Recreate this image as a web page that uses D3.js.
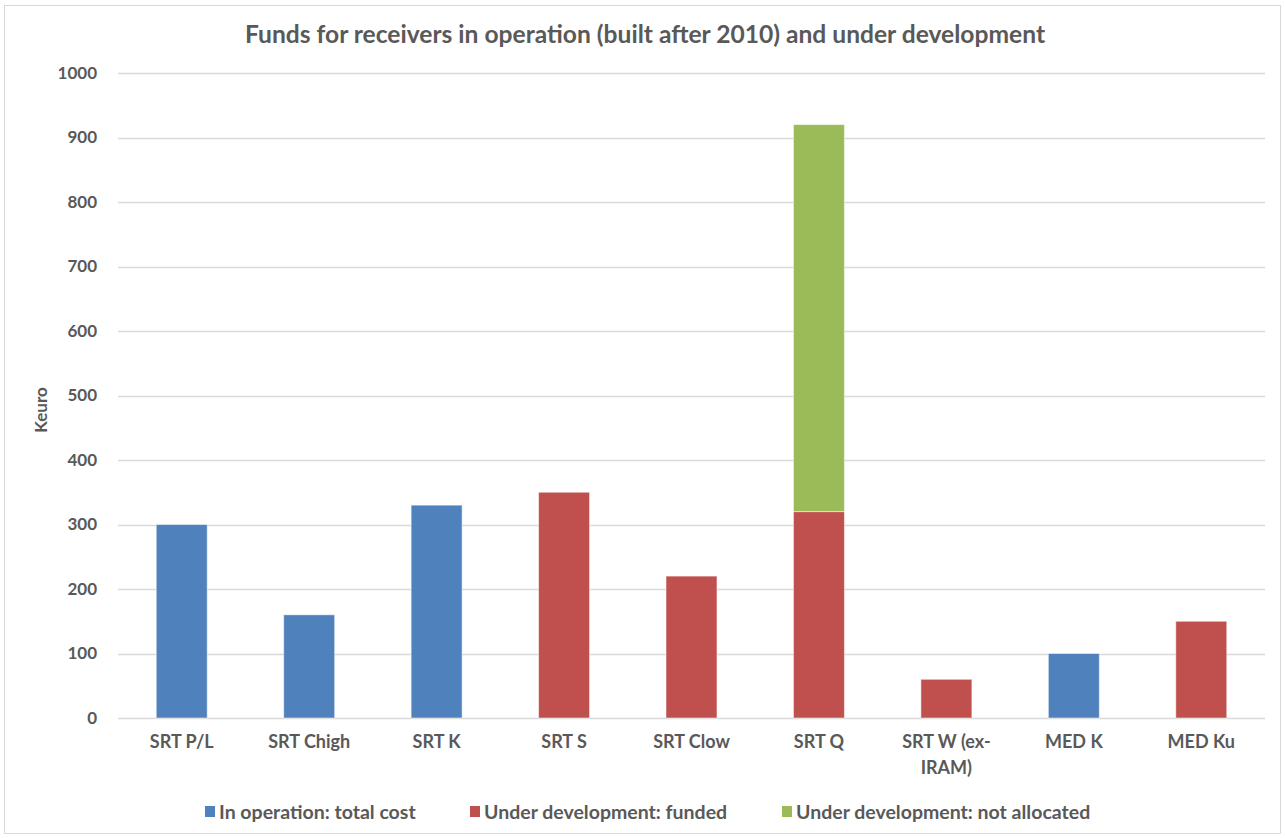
<!DOCTYPE html>
<html>
<head>
  <title>Funds for receivers</title>
  <script src="https://d3js.org/d3.v7.min.js"></script>
  <style type="text/css">
    body { margin: 0; background: #fff; }
    svg, svg text { font-family: Lato, "Open Sans", sans-serif; font-weight: bold; }
    .tick text { fill: #595959; }
  </style>
</head>
<body>
<div id="chart"></div>
<script type="text/javascript">
  // data
  var categories = ["SRT P/L", "SRT Chigh", "SRT K", "SRT S", "SRT Clow", "SRT Q", "SRT W (ex-IRAM)", "MED K", "MED Ku"];
  var inOperation = [300, 160, 330, 0, 0, 0, 0, 100, 0];
  var devFunded = [0, 0, 0, 350, 220, 320, 60, 0, 150];
  var devNotAllocated = [0, 0, 0, 0, 0, 600, 0, 0, 0];
  var seriesNames = ["In operation: total cost", "Under development: funded", "Under development: not allocated"];
  var seriesColors = ["#4F81BD", "#C0504D", "#9BBB59"];
  var yTicks = [0, 100, 200, 300, 400, 500, 600, 700, 800, 900, 1000];

  var width = 1285, height = 838;

  var svg = d3.select("#chart").append("svg")
    .attr("width", width)
    .attr("height", height);

  // outer frame
  svg.append("rect")
    .attr("x", 4.5).attr("y", 5.5)
    .attr("width", 1276).attr("height", 828)
    .attr("fill", "#fff")
    .attr("stroke", "#d9d9d9");

  var x = d3.scaleBand()
    .domain(categories)
    .range([118, 1265])
    .paddingInner(0.6)
    .paddingOuter(0.3);

  var y = d3.scaleLinear()
    .domain([0, 1000])
    .range([718, 73]);

  // gridlines
  svg.append("g")
    .selectAll("line")
    .data(yTicks)
    .enter()
    .append("line")
    .attr("x1", 118).attr("x2", 1265)
    .attr("y1", function (d) { return Math.round(y(d)) + 0.5; })
    .attr("y2", function (d) { return Math.round(y(d)) + 0.5; })
    .attr("stroke", "#d9d9d9")
    .attr("stroke-width", 1.5);

  // y axis labels
  var yAxis = svg.append("g")
    .attr("transform", "translate(118,0)")
    .call(d3.axisLeft(y).tickValues(yTicks).tickFormat(d3.format("d")).tickSize(0).tickPadding(21));
  yAxis.select(".domain").remove();
  yAxis.attr("font-family", null);
  yAxis.selectAll("text").style("font-size", "17px");

  // stacked bars
  var rows = categories.map(function (c, i) {
    return { cat: c, a: inOperation[i], b: devFunded[i], c: devNotAllocated[i] };
  });
  var stack = d3.stack().keys(["a", "b", "c"])(rows);

  svg.append("g")
    .selectAll("g")
    .data(stack)
    .enter()
    .append("g")
    .attr("fill", function (d, i) { return seriesColors[i]; })
    .selectAll("rect")
    .data(function (d) { return d.filter(function (p) { return p[1] - p[0] > 0; }); })
    .enter()
    .append("rect")
    .attr("x", function (d) { return x(d.data.cat); })
    .attr("width", x.bandwidth())
    .attr("y", function (d) { return y(d[1]); })
    .attr("height", function (d) { return y(d[0]) - y(d[1]); })
    .attr("stroke", "#ffffff")
    .attr("stroke-opacity", 0.5)
    .attr("stroke-width", 1);

  // x axis labels
  var xAxis = svg.append("g")
    .attr("transform", "translate(0,718)")
    .call(d3.axisBottom(x).tickSize(0).tickPadding(17));
  xAxis.select(".domain").remove();
  xAxis.attr("font-family", null);
  xAxis.selectAll("text")
    .style("font-size", "18px")
    .each(function (d) {
      if (d === "SRT W (ex-IRAM)") {
        var t = d3.select(this);
        t.text(null);
        t.append("tspan").attr("x", 0).attr("dy", "0.71em").text("SRT W (ex-");
        t.append("tspan").attr("x", 0).attr("dy", "1.45em").text("IRAM)");
        t.attr("dy", null);
      }
    });

  // title
  svg.append("text")
    .attr("x", 645).attr("y", 43)
    .attr("text-anchor", "middle")
    .attr("fill", "#595959")
    .style("font-size", "24.6px")
    .text("Funds for receivers in operation (built after 2010) and under development");

  // y label
  svg.append("text")
    .attr("transform", "translate(47,410) rotate(-90)")
    .attr("text-anchor", "middle")
    .attr("fill", "#595959")
    .style("font-size", "17px")
    .text("Keuro");

  // legend
  var legendX = [205, 470, 782];
  var legend = svg.append("g")
    .selectAll("g")
    .data(seriesNames)
    .enter()
    .append("g")
    .attr("transform", function (d, i) { return "translate(" + legendX[i] + ",812)"; });
  legend.append("rect")
    .attr("x", 0).attr("y", -6)
    .attr("width", 10).attr("height", 11)
    .attr("fill", function (d, i) { return seriesColors[i]; });
  legend.append("text")
    .attr("x", 14).attr("y", 0)
    .attr("dy", "0.35em")
    .attr("fill", "#595959")
    .style("font-size", "19.5px")
    .text(function (d) { return d; });
</script>
</body>
</html>
